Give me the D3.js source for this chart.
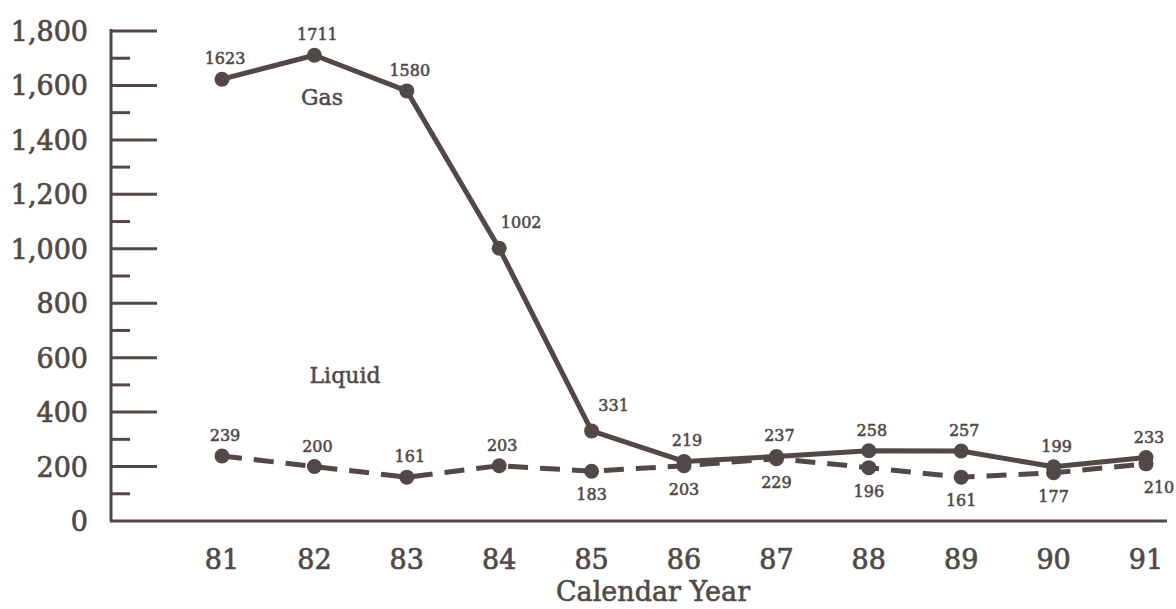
<!DOCTYPE html>
<html>
<head>
<meta charset="utf-8">
<script src="https://cdn.jsdelivr.net/npm/d3@7"></script>
<style>
  html, body { margin: 0; padding: 0; background: #ffffff; }
  svg { display: block; }
</style>
</head>
<body>
<svg id="chart" width="1176" height="609"></svg>
<script>
// Calendar years on the x axis
const years = ["81", "82", "83", "84", "85", "86", "87", "88", "89", "90", "91"];
// Gas series values
const gasValues = [1623, 1711, 1580, 1002, 331, 219, 237, 258, 257, 199, 233];
// Liquid series values
const liquidValues = [239, 200, 161, 203, 183, 203, 229, 196, 161, 177, 210];
// Where each value label sits relative to its point
const gasLabelSide = ["above", "above", "above", "right", "right", "above", "above", "above", "above", "above", "above"];
const liquidLabelSide = ["above", "above", "above", "above", "below", "below", "below", "below", "below", "below", "belowRight"];
// Y axis ticks
const yMajorTicks = [0, 200, 400, 600, 800, 1000, 1200, 1400, 1600, 1800];
const yMinorTicks = [100, 300, 500, 700, 900, 1100, 1300, 1500, 1700];

const ink = "#514945";
const serif = "'DejaVu Serif', 'Liberation Serif', serif";

const svg = d3.select("#chart");

const x = d3.scalePoint().domain(years).range([222, 1146]);
const y = d3.scaleLinear().domain([0, 1800]).range([521, 31]);

// Heavier serif text, like letterpress type
function inkText(sel, size, weight) {
  return sel
    .attr("font-family", serif)
    .attr("font-size", size)
    .attr("fill", ink)
    .attr("stroke", ink)
    .attr("stroke-width", weight)
    .attr("stroke-linejoin", "round");
}

// Left axis line with ticks pointing inward
const axisX = 111;
svg.append("line")
  .attr("x1", axisX).attr("x2", axisX)
  .attr("y1", y(1800) - 2).attr("y2", y(0))
  .attr("stroke", ink).attr("stroke-width", 3);

svg.append("g").selectAll("line").data(yMajorTicks.filter(d => d > 0)).join("line")
  .attr("x1", axisX).attr("x2", 157)
  .attr("y1", d => y(d)).attr("y2", d => y(d))
  .attr("stroke", ink).attr("stroke-width", 3);

svg.append("g").selectAll("line").data(yMinorTicks).join("line")
  .attr("x1", axisX).attr("x2", 130)
  .attr("y1", d => y(d)).attr("y2", d => y(d))
  .attr("stroke", ink).attr("stroke-width", 3);

// Y tick labels
inkText(svg.append("g").selectAll("text").data(yMajorTicks).join("text"), 27, 0.7)
  .attr("x", 88).attr("y", d => y(d) + 10)
  .attr("text-anchor", "end")
  .text(d => d3.format(",")(d));

// Baseline (x axis)
svg.append("line")
  .attr("x1", axisX - 1).attr("x2", 1167)
  .attr("y1", y(0)).attr("y2", y(0))
  .attr("stroke", ink).attr("stroke-width", 3);

// X tick labels
inkText(svg.append("g").selectAll("text").data(years).join("text"), 27, 0.7)
  .attr("x", d => x(d)).attr("y", 569)
  .attr("text-anchor", "middle")
  .text(d => d);

// Axis title
inkText(svg.append("text"), 27, 0.6)
  .attr("x", 653).attr("y", 601)
  .attr("text-anchor", "middle")
  .text("Calendar Year");

const line = d3.line().x((d, i) => x(years[i])).y(d => y(d));

// Liquid series (dashed)
svg.append("path")
  .datum(liquidValues)
  .attr("d", line)
  .attr("fill", "none")
  .attr("stroke", ink).attr("stroke-width", 5)
  .attr("stroke-dasharray", "20,12");

// Gas series (solid)
svg.append("path")
  .datum(gasValues)
  .attr("d", line)
  .attr("fill", "none")
  .attr("stroke", ink).attr("stroke-width", 5)
  .attr("stroke-linejoin", "round");

function dots(values) {
  svg.append("g").selectAll("circle").data(values).join("circle")
    .attr("cx", (d, i) => x(years[i]))
    .attr("cy", d => y(d))
    .attr("r", 7.5)
    .attr("fill", ink);
}
dots(liquidValues);
dots(gasValues);

function labelPos(side, px, py) {
  if (side === "above") return [px + 3, py - 15];
  if (side === "below") return [px, py + 29];
  if (side === "right") return [px + 22, py - 20];
  if (side === "belowRight") return [px + 13, py + 29];
  return [px, py];
}

function valueLabels(values, sides) {
  inkText(svg.append("g").selectAll("text").data(values).join("text"), 16, 0.55)
    .each(function (d, i) {
      const [lx, ly] = labelPos(sides[i], x(years[i]), y(d));
      d3.select(this).attr("x", lx).attr("y", ly);
    })
    .attr("text-anchor", "middle")
    .text(d => d);
}
valueLabels(gasValues, gasLabelSide);
valueLabels(liquidValues, liquidLabelSide);

// Series names
inkText(svg.append("text"), 22, 0.5)
  .attr("x", 322).attr("y", 105)
  .attr("text-anchor", "middle")
  .text("Gas");

inkText(svg.append("text"), 22, 0.5)
  .attr("x", 345).attr("y", 383)
  .attr("text-anchor", "middle")
  .text("Liquid");
</script>
</body>
</html>
